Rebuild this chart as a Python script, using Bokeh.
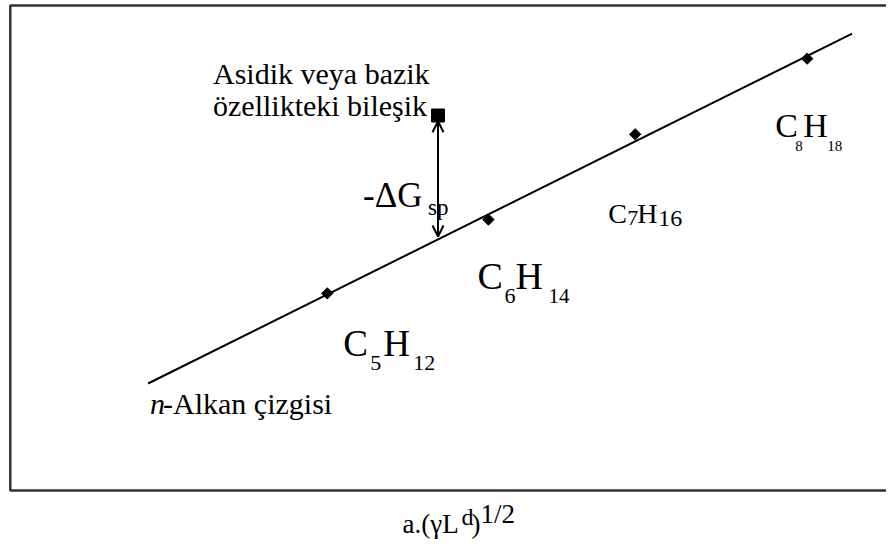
import numpy as np
from bokeh.plotting import figure
from bokeh.models import Range1d, BoxAnnotation, Arrow, OpenHead
from bokeh.core.properties import value
from bokeh.embed import file_html
from bokeh.resources import INLINE

# ---- data (chart units) ----
alkane_names = ["C5H12", "C6H14", "C7H16", "C8H18"]
alkane_x = [3.52, 5.31, 6.94, 8.85]
alkane_y = [4.09, 5.62, 7.39, 8.96]
alkane_line_x = [1.53, 9.35]
alkane_line_y = [2.22, 9.48]
compound_x = [4.75]
compound_y = [7.78]
dg_arrow_y = [7.66, 5.27]

FONT = "Liberation Serif"

p = figure(width=886, height=541,
           x_range=Range1d(-0.1089, 9.731), y_range=Range1d(-1.058, 10.166),
           x_axis_type=None, y_axis_type=None,
           toolbar_location=None, output_backend="svg",
           min_border=0, outline_line_color=None,
           background_fill_color="white", border_fill_color="white")

# frame box (right edge runs off the picture)
frame = BoxAnnotation(left=0, right=12, bottom=0, top=10.06,
                      fill_color=None, fill_alpha=0,
                      line_color="#333333", line_alpha=1.0, line_width=2.5)
p.add_layout(frame)

# n-alkane line and points
p.line(alkane_line_x, alkane_line_y, line_color="black", line_width=2)
p.scatter(alkane_x, alkane_y, marker="square", angle=np.pi / 4, size=8,
          color="black")

# acidic / basic compound
p.scatter(compound_x, compound_y, marker="square", size=13, color="black")

# -dG arrow
p.add_layout(Arrow(start=OpenHead(size=11, line_width=2, line_color="black"),
                   end=OpenHead(size=11, line_width=2, line_color="black"),
                   x_start=compound_x[0], y_start=dg_arrow_y[0],
                   x_end=compound_x[0], y_end=dg_arrow_y[1],
                   line_width=2, line_color="black"))


def put(x, y, pieces):
    for txt, dx, dy, size, style in pieces:
        p.text(x=[x], y=[y], text=[txt], x_offset=dx, y_offset=dy,
               text_font=value(FONT), text_font_size=f"{size}px",
               text_font_style=style, text_baseline="alphabetic",
               text_align="left", text_color="black")


alkane_label_pieces = [
    [("C", 16, 50, 37, "normal"), ("5", 43, 70, 22, "normal"),
     ("H", 56, 50, 37, "normal"), ("12", 86, 70, 22, "normal")],
    [("C", -11, 56, 38, "normal"), ("6", 16, 76, 22, "normal"),
     ("H", 27, 56, 38, "normal"), ("14", 60, 76, 21, "normal")],
    [("C", -27, 79, 28, "normal"), ("7", -8, 84, 22, "normal"),
     ("H", 2, 79, 28, "normal"), ("16", 23, 84, 24, "normal")],
    [("C", -32, 67, 34, "normal"), ("8", -12, 87, 15, "normal"),
     ("H", -4, 67, 34, "normal"), ("18", 20, 87, 15, "normal")],
]
for ax, ay, pieces in zip(alkane_x, alkane_y, alkane_label_pieces):
    put(ax, ay, pieces)

# compound label and dG label
put(compound_x[0], compound_y[0], [
    ("Asidik veya bazik", -225, -42, 30, "normal"),
    ("özellikteki bileşik", -225, -10, 30, "normal"),
    ("-ΔG", -75, 80, 35, "normal"),
    ("sp", -10, 92, 23, "normal"),
])

# n-alkane line label
put(alkane_line_x[0], alkane_line_y[0], [
    ("n", 2, 20, 30, "italic"),
    ("-Alkan  çizgisi", 15, 20, 30, "normal"),
])

# x-axis label below the frame
put(4.356, -0.685, [
    ("a.(γL", 0, 0, 27, "normal"),
    ("d", 59, -7, 24, "normal"),
    (")", 69, 0, 27, "normal"),
    ("1/2", 78, -10, 27, "normal"),
])

open("out.html", "w").write(file_html(p, INLINE))
